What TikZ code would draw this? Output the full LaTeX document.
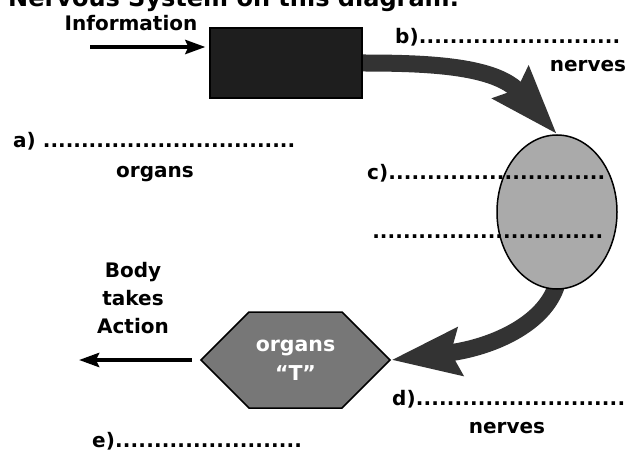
\documentclass[tikz,border=0pt]{standalone}
\usepackage{fontspec}
\setmainfont{DejaVu Sans}
\usetikzlibrary{arrows.meta,shapes.geometric,shapes.symbols}

\definecolor{boxfill}{HTML}{1E1E1E}
\definecolor{flowgray}{HTML}{333333}
\definecolor{cnsfill}{HTML}{AAAAAA}
\definecolor{effill}{HTML}{777777}

\pgfdeclarelayer{flows}
\pgfsetlayers{flows,main}

% a label followed by a run of dots, filling the given width
\newcommand\blankline[2]{\hbox to #2{#1\xleaders\hbox to 7.6pt{\hss.\hss}\hfill}}

\tikzset{
  lab/.style={font=\bfseries\fontsize{20}{28}\selectfont, inner sep=0pt},
  flow/.style={draw=flowgray, line width=17pt,
    -{Stealth[length=68pt,width=46pt,inset=8pt]}},
  thinflow/.style={draw=black, line width=4pt,
    -{Stealth[length=20pt,width=14pt,inset=3pt]}},
}

\begin{document}
\begin{tikzpicture}[x=1pt,y=-1pt]
\useasboundingbox (0,0) rectangle (632,457);
\clip (0,0) rectangle (632,457);

% heading, running off the top edge
\node[anchor=base west, inner sep=0pt,
      font=\bfseries\fontsize{24}{28}\selectfont] (title) at (8,7)
  {Nervous System on this diagram.};

% receptor box and incoming information
\node[draw=black, fill=boxfill, line width=1.2pt, inner sep=0pt,
      minimum width=152pt, minimum height=70pt] (box) at (286,63) {};
\node[lab, anchor=base] (info) at (131,31) {Information};
\coordinate (infotail) at (90,47);
\draw[thinflow, shorten >=4pt] (infotail) -- (infotail -| box.west);

% central nervous system
\node[ellipse, draw=black, line width=1.5pt, fill=cnsfill, inner sep=0pt,
      minimum width=120pt, minimum height=154pt] (cns) at (557,212) {};

% effector
\node[signal, signal to=west and east, signal pointer angle=90,
      draw=black, line width=1.5pt, fill=effill, inner sep=0pt,
      minimum width=189pt, minimum height=96pt, text=white, align=center,
      font=\bfseries\fontsize{20.5}{29}\selectfont] (eff) at (295.5,360)
  {organs\\“T”};

% flows between the parts, beneath the shapes
\begin{pgfonlayer}{flows}
\draw[flow] (box.east) .. controls (430,63) and (496,66) .. (cns.north);
\draw[flow] ([yshift=6pt]cns.south) .. controls (545,325) and (490,348) .. (eff.east);
\end{pgfonlayer}

% outgoing action
\coordinate (acthead) at (79,360);
\draw[thinflow, shorten <=8pt] (eff.west) -- (acthead);
\node[lab, anchor=north, align=center] (act) at (133,262) {Body\\takes\\Action};

% blanks to fill in
\node[lab, anchor=base west] (a) at (13,148) {\blankline{a)\ }{282pt}};
\node[lab, anchor=base] (aorg) at (155,178) {organs};
\node[lab, anchor=base west] (b) at (395,44) {\blankline{b)}{225pt}};
\node[lab, anchor=base] (bnerv) at (588,72) {nerves};
\node[lab, anchor=base west] (c) at (367,180) {\blankline{c)}{238pt}};
\node[lab, anchor=base west] (c2) at (372,239) {\blankline{}{231pt}};
\node[lab, anchor=base west] (d) at (392,405) {\blankline{d)}{233pt}};
\node[lab, anchor=base] (dnerv) at (507,433) {nerves};
\node[lab, anchor=base west] (e) at (92,447) {\blankline{e)}{210pt}};
\end{tikzpicture}
\end{document}
